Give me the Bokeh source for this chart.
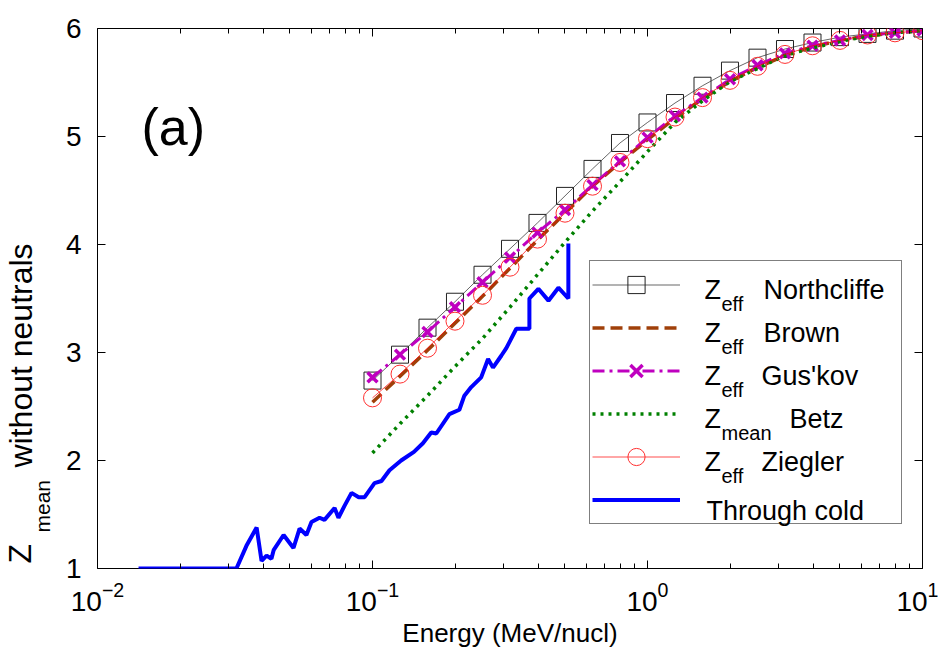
import math
from bokeh.plotting import figure
from bokeh.layouts import row
from bokeh.models import (FixedTicker, LogAxis, LinearAxis, Legend, LegendItem,
                          Label, Range1d)
from bokeh.core.properties import value
from bokeh.embed import file_html
from bokeh.resources import INLINE

# ---------------- data ----------------
energy_model = [0.1, 0.1259, 0.1585, 0.1995, 0.2512, 0.3162, 0.3981, 0.5012,
                0.6310, 0.7943, 1.0, 1.259, 1.585, 1.995, 2.512, 3.162, 3.981,
                5.012, 6.310, 7.943, 10.0]
zeff_northcliffe = [2.74, 2.98, 3.23, 3.47, 3.72, 3.96, 4.20, 4.45, 4.70, 4.94,
                    5.13, 5.31, 5.47, 5.61, 5.73, 5.81, 5.87, 5.92, 5.95, 5.98, 6.0]
zeff_brown = [2.54, 2.78, 3.02, 3.27, 3.52, 3.78, 4.04, 4.29, 4.54, 4.76,
              4.97, 5.17, 5.35, 5.51, 5.64, 5.75, 5.83, 5.89, 5.93, 5.96, 5.98]
zeff_guskov = [2.77, 2.98, 3.19, 3.42, 3.65, 3.88, 4.11, 4.32, 4.55, 4.77,
               4.99, 5.19, 5.36, 5.53, 5.66, 5.77, 5.84, 5.89, 5.94, 5.96, 5.98]
zmean_betz = [2.07, 2.34, 2.60, 2.87, 3.13, 3.42, 3.72, 4.02, 4.31, 4.58,
              4.86, 5.13, 5.33, 5.51, 5.63, 5.75, 5.82, 5.88, 5.93, 5.96, 5.98]
zeff_ziegler = [2.58, 2.80, 3.04, 3.29, 3.53, 3.79, 4.05, 4.29, 4.54, 4.76,
                4.98, 5.18, 5.36, 5.52, 5.65, 5.76, 5.84, 5.89, 5.94, 5.96, 5.98]

energy_cold = [0.0141, 0.0320, 0.0348, 0.0379, 0.0395, 0.0412, 0.0429, 0.0437,
               0.0475, 0.0516, 0.0543, 0.0575, 0.0600, 0.0642, 0.0669, 0.0728,
               0.0752, 0.0791, 0.0839, 0.0891, 0.0936, 0.1017, 0.1078, 0.1153,
               0.1271, 0.1415, 0.1525, 0.1635, 0.1706, 0.1904, 0.2070, 0.2158,
               0.2286, 0.2484, 0.2632, 0.2743, 0.2939, 0.3066, 0.3334, 0.3720,
               0.3720, 0.4010, 0.4364, 0.4743, 0.5155, 0.5155]
zmean_cold = [1.00, 1.00, 1.21, 1.38, 1.07, 1.12, 1.09, 1.17,
              1.31, 1.19, 1.37, 1.31, 1.43, 1.47, 1.45, 1.56,
              1.47, 1.58, 1.70, 1.66, 1.66, 1.79, 1.81, 1.91,
              2.00, 2.08, 2.16, 2.26, 2.25, 2.43, 2.47, 2.60,
              2.68, 2.77, 2.94, 2.86, 2.97, 3.04, 3.22, 3.22,
              3.50, 3.59, 3.48, 3.60, 3.50, 4.01]

x_major = [0.01, 0.1, 1.0, 10.0]
y_major = [1, 2, 3, 4, 5, 6]

FONT = "Liberation Sans"
TOTAL_H = 646
LEFT_W = 62

# ---------------- main figure ----------------
p = figure(x_axis_type="log", x_range=Range1d(0.01, 10), y_range=Range1d(1, 6),
           frame_width=825, frame_height=540,
           min_border_left=96 - LEFT_W, min_border_right=16, min_border_top=28,
           min_border_bottom=TOTAL_H - 28 - 540,
           output_backend="svg", toolbar_location=None)
p.grid.visible = False
p.outline_line_color = "black"
p.outline_line_width = 1
p.background_fill_color = "white"
p.border_fill_color = "white"

x_minor = [m * d for d in (0.01, 0.1, 1.0) for m in range(2, 10)]
xt = FixedTicker(ticks=x_major, minor_ticks=x_minor)
yt = FixedTicker(ticks=y_major, minor_ticks=[])


def style_axis(ax, labels=True, minor=True):
    ax.axis_line_color = None
    ax.major_tick_in = 8
    ax.major_tick_out = 0
    ax.minor_tick_in = 5 if minor else 0
    ax.minor_tick_out = 0
    ax.major_tick_line_color = "black"
    ax.minor_tick_line_color = "black"
    ax.major_label_text_font = FONT
    ax.major_label_text_color = "black"
    if labels:
        ax.major_label_text_font_size = "28px"
    else:
        ax.major_label_text_font_size = "1px"
        ax.major_label_text_color = None
        ax.major_label_standoff = 0


p.xaxis.ticker = xt
p.yaxis.ticker = yt
style_axis(p.xaxis[0])
style_axis(p.yaxis[0], minor=False)
p.xaxis.major_label_standoff = 13
p.yaxis.major_label_standoff = 16

p.xaxis.axis_label = "Energy (MeV/nucl)"
p.xaxis.axis_label_text_font = FONT
p.xaxis.axis_label_text_font_size = "26px"
p.xaxis.axis_label_text_font_style = "normal"
p.xaxis.axis_label_text_color = "black"
p.xaxis.axis_label_standoff = 4

top_ax = LogAxis(ticker=xt)
style_axis(top_ax, labels=False)
p.add_layout(top_ax, "above")
right_ax = LinearAxis(ticker=yt)
style_axis(right_ax, labels=False, minor=False)
p.add_layout(right_ax, "right")

# ---------------- series ----------------
r_n_line = p.line(energy_model, zeff_northcliffe, line_color="black", line_width=0.6)
r_n_mk = p.scatter(energy_model, zeff_northcliffe, marker="square", size=17,
                   fill_color=None, line_color="#222222", line_width=1)
r_brown = p.line(energy_model, zeff_brown, line_color="#A0400A", line_width=3.5,
                 line_dash="12 6")
r_g_line = p.line(energy_model, zeff_guskov, line_color="#BF00BF", line_width=3,
                  line_dash="12 5 3 5")
r_g_mk = p.scatter(energy_model, zeff_guskov, marker="x", size=14,
                   line_color="#BF00BF", line_width=3.5)
r_betz = p.line(energy_model, zmean_betz, line_color="#008000", line_width=3.5,
                line_dash="3 5")
r_z_line = p.line(energy_model, zeff_ziegler, line_color="red", line_width=0.7)
r_z_mk = p.scatter(energy_model, zeff_ziegler, marker="circle", size=18,
                   fill_color=None, line_color="#FF3030", line_width=1)
r_cold = p.line(energy_cold, zmean_cold, line_color="#0000FF", line_width=4)

# ---------------- legend (glyph samples) ----------------
LEG_LEFT, LEG_BOTTOM = 492, 44      # screen px from frame bottom-left
ROW_H, PAD = 43, 2
legend = Legend(items=[
    LegendItem(label=" ", renderers=[r_n_line, r_n_mk]),
    LegendItem(label=" ", renderers=[r_brown]),
    LegendItem(label=" ", renderers=[r_g_line, r_g_mk]),
    LegendItem(label=" ", renderers=[r_betz]),
    LegendItem(label=" ", renderers=[r_z_line, r_z_mk]),
    LegendItem(label=" ", renderers=[r_cold]),
], location=(LEG_LEFT, LEG_BOTTOM), padding=PAD, spacing=0, margin=0,
    label_height=ROW_H, glyph_height=ROW_H, glyph_width=88, label_width=211,
    label_standoff=8, label_text_font=FONT, label_text_font_size="20px",
    border_line_color="black", border_line_width=1,
    background_fill_color="white", background_fill_alpha=0.0)
p.add_layout(legend)

leg_top = LEG_BOTTOM + 2 * PAD + 6 * ROW_H
row_center = [leg_top - PAD - ROW_H / 2 - k * ROW_H for k in range(6)]
legend_text = [("Z", "eff", "Northcliffe", 59),
               ("Z", "eff", "Brown", 59),
               ("Z", "eff", "Gus'kov", 57),
               ("Z", "mean", "Betz", 85),
               ("Z", "eff", "Ziegler", 57)]
tx0 = 703 - 96
for k, (zz, sub, name, dx) in enumerate(legend_text):
    yc = row_center[k]
    p.add_layout(Label(x=tx0, y=yc - 4, x_units="screen", y_units="screen",
                       text=zz, text_font=FONT, text_font_size="27px",
                       text_color="black", text_baseline="alphabetic"))
    p.add_layout(Label(x=tx0 + 17, y=yc - 18, x_units="screen", y_units="screen",
                       text=sub, text_font=FONT, text_font_size="20px",
                       text_color="black", text_baseline="alphabetic"))
    p.add_layout(Label(x=tx0 + dx, y=yc - 4, x_units="screen", y_units="screen",
                       text=name, text_font=FONT, text_font_size="27px",
                       text_color="black", text_baseline="alphabetic"))
p.add_layout(Label(x=tx0 + 2, y=row_center[5] - 10, x_units="screen", y_units="screen",
                   text="Through cold", text_font=FONT, text_font_size="27px",
                   text_color="black", text_baseline="alphabetic"))

# ---------------- panel tag ----------------
p.add_layout(Label(x=0.01445, y=5.09, text="(a)", text_font=FONT,
                   text_font_size="52px", text_color="black",
                   text_baseline="middle"))

# ---------------- y-axis title strip (Z_mean without neutrals) ----------------
q = figure(x_range=Range1d(0, LEFT_W), y_range=Range1d(0, TOTAL_H),
           frame_width=LEFT_W, frame_height=TOTAL_H,
           min_border=0, x_axis_location=None, y_axis_location=None,
           output_backend="svg", toolbar_location=None)
q.grid.visible = False
q.outline_line_color = None
q.background_fill_color = "white"
q.border_fill_color = "white"

ylab_parts = ["Z", "mean", "without neutrals"]
ylab_sizes = ["32px", "21px", "32px"]
ylab_x = [19, 42, 20]                                   # px from strip left
ylab_start = [TOTAL_H - 535, TOTAL_H - 504, TOTAL_H - 439]   # px from bottom
for t, s, xx, yy in zip(ylab_parts, ylab_sizes, ylab_x, ylab_start):
    q.text(x=[xx], y=[yy], text=[t], angle=math.pi / 2,
           text_font=value(FONT), text_font_size=value(s),
           text_color="black", text_align="left", text_baseline="alphabetic")

layout = row(q, p, spacing=0)
open("out.html", "w").write(file_html(layout, INLINE))
